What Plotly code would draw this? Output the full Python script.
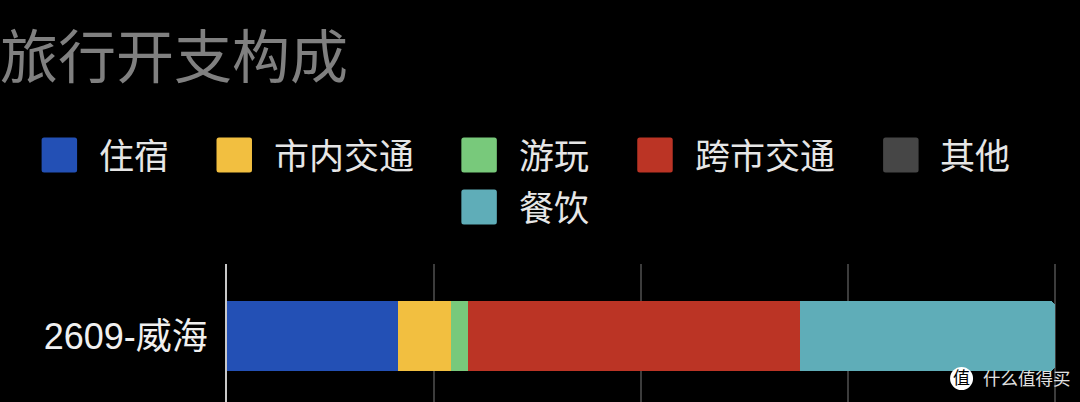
import plotly.graph_objects as go

categories = ["2609-威海"]
series_names = ["住宿", "市内交通", "游玩", "跨市交通", "其他", "餐饮"]
series_values = [[20.7], [6.35], [2.1], [40.15], [0], [30.75]]
series_colors = ["#2350b5", "#f2bf40", "#78c97b", "#bb3425", "#464646", "#5fadb8"]
tick_values = [0, 25, 50, 75, 100]

W, H = 1080, 402
CJK = "Liberation Sans, Noto Sans CJK SC, sans-serif"
L, R, T, B = 226.5, 1058, 264, 402
x_max = (R - L) / 8.28
bar_h, bar_cy = 70, 336

fig = go.Figure()
for name, vals, col in zip(series_names, series_values, series_colors):
    fig.add_trace(go.Bar(x=vals, y=categories, name=name, orientation="h",
                         marker=dict(color=col, line=dict(width=0)),
                         width=1, cliponaxis=False, showlegend=False))

# "paper" coordinates are relative to the plot area
px = lambda v: (v - L) / (R - L)
py = lambda v: (B - v) / (B - T)


def rounded(x0, y0, x1, y1, r=2.5):
    a, b, c, d = px(x0), px(x1), py(y0), py(y1)
    rx, ry = r / (R - L), r / (B - T)
    return (f"M{a+rx},{c} L{b-rx},{c} Q{b},{c} {b},{c-ry} L{b},{d+ry} Q{b},{d} {b-rx},{d} "
            f"L{a+rx},{d} Q{a},{d} {a},{d+ry} L{a},{c-ry} Q{a},{c} {a+rx},{c} Z")


# legend: swatch left edge, row centre, text left edge
legend_layout = [(41, 155, 96.5), (216, 155, 272), (461, 155, 517),
                 (637, 155, 693), (883, 155, 938), (461, 207, 517)]
shapes, annots = [], []
for (sx, cy, tx), name, col in zip(legend_layout, series_names, series_colors):
    shapes.append(dict(type="path", xref="paper", yref="paper", layer="above",
                       path=rounded(sx, cy - 17.5, sx + 35.5, cy + 17.5),
                       fillcolor=col, line=dict(width=0)))
    annots.append(dict(text=name, xref="paper", yref="paper", x=px(tx), y=py(cy + 1),
                       xanchor="left", yanchor="middle", showarrow=False,
                       font=dict(family=CJK, size=35, color="#e6e6e6")))

# title
annots.append(dict(text="旅行开支构成", xref="paper", yref="paper", x=px(-3), y=py(57),
                   xanchor="left", yanchor="middle", showarrow=False,
                   font=dict(family=CJK, size=58, color="#808080")))

# watermark
shapes.append(dict(type="circle", xref="paper", yref="paper", layer="above",
                   x0=px(950), x1=px(973), y0=py(390), y1=py(367),
                   fillcolor="#ffffff", line=dict(width=0)))
annots.append(dict(text="值", xref="paper", yref="paper", x=px(961.5), y=py(378.5),
                   xanchor="center", yanchor="middle", showarrow=False,
                   font=dict(family=CJK, size=17, color="#000000")))
annots.append(dict(text="什么值得买", xref="paper", yref="paper", x=px(981), y=py(379),
                   xanchor="left", yanchor="middle", showarrow=False,
                   font=dict(family=CJK, size=17.5, color="#e0e0e0")))

fig.update_layout(
    width=W, height=H, barmode="stack", barcornerradius=5,
    paper_bgcolor="#000000", plot_bgcolor="#000000",
    margin=dict(l=L, r=W - R, t=T, b=H - B, pad=0, autoexpand=False),
    shapes=shapes, annotations=annots, showlegend=False,
    xaxis=dict(range=[0, x_max], tickvals=tick_values, showticklabels=False,
               showgrid=True, gridcolor="#3c3c3c", gridwidth=2, zeroline=False,
               showline=False, ticks=""),
    yaxis=dict(type="category", range=[-(B - bar_cy) / bar_h, (bar_cy - T) / bar_h],
               showgrid=False, zeroline=False, showline=True, linecolor="#c8c8c8",
               linewidth=2, ticks="outside", ticklen=10, tickcolor="rgba(0,0,0,0)",
               tickfont=dict(family=CJK, size=36, color="#f0f0f0"), automargin=False),
)
fig.write_html("out.html", config={"displayModeBar": False},
               post_script="document.documentElement.style.margin='0';document.body.style.margin='0';document.body.style.background='#000';document.body.style.overflow='hidden';")
